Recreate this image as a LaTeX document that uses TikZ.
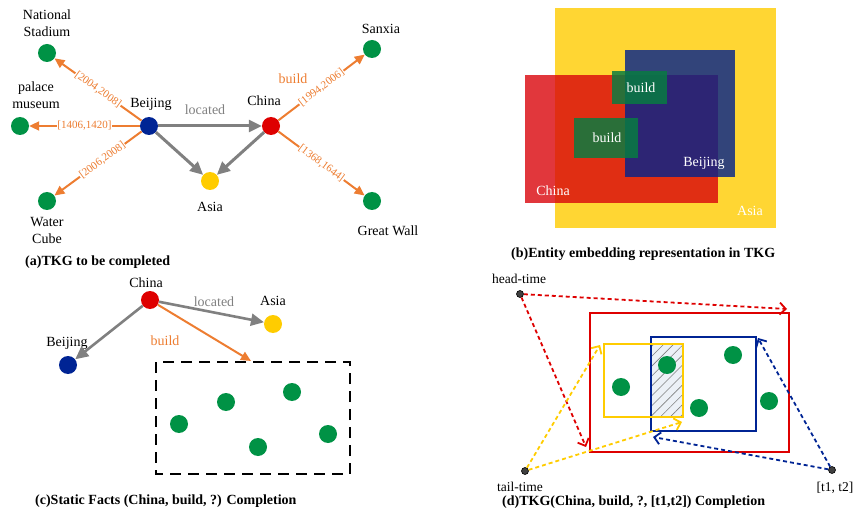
\documentclass[tikz,border=0pt]{standalone}
\usepackage{fontspec}
\setmainfont{Liberation Serif}
\usepackage{tikz}
\usetikzlibrary{arrows.meta}
\usetikzlibrary{patterns.meta}
\usepackage{xcolor}
\definecolor{entgreen}{RGB}{0,146,69}
\definecolor{entblue}{RGB}{0,36,148}
\definecolor{entred}{RGB}{222,0,0}
\definecolor{entyellow}{RGB}{255,204,0}
\definecolor{timeorange}{RGB}{237,125,49}
\definecolor{relgray}{RGB}{128,128,128}
\definecolor{embyellow}{RGB}{255,214,51}
\definecolor{embred}{RGB}{217,5,11}
\definecolor{embblue}{RGB}{6,36,138}
\definecolor{embgreen}{RGB}{8,124,65}
\definecolor{hatchbg}{RGB}{236,241,247}

\begin{document}
\begin{tikzpicture}[x=1pt,y=-1pt,
  ent/.style={circle,minimum size=18pt,inner sep=0pt},
  lab/.style={font=\fontsize{14}{17}\selectfont,align=center,inner sep=0pt},
  figcap/.style={font=\fontsize{14}{16}\selectfont\bfseries,anchor=west,inner sep=0pt},
  rel/.style={draw=relgray,line width=3pt,-{Triangle[length=13pt,width=12pt]}},
  tim/.style={draw=timeorange,line width=2pt,-{Triangle[length=10pt,width=9pt]}},
  tlab/.style={font=\fontsize{11}{12}\selectfont,text=timeorange,fill=white,inner sep=0.6pt,sloped},
  tdot/.style={circle,fill=darkgray,draw=black,line width=0.6pt,minimum size=7pt,inner sep=0pt},
  qline/.style={line width=1.8pt,dash pattern=on 4pt off 3pt,-{Straight Barb[length=6pt,width=12pt]}},
  emb/.style={font=\fontsize{14}{16}\selectfont,text=white}]
 \useasboundingbox (0,0) rectangle (857,513);
 %%%%%%%%%%%%%%%%%%%% (a)
 \node[ent,fill=entblue] (bj) at (149,126) {};
 \node[ent,fill=entred] (cn) at (271,126) {};
 \node[ent,fill=entyellow] (as) at (210,181) {};
 \node[ent,fill=entgreen] (ns) at (47,53) {};
 \node[ent,fill=entgreen] (pm) at (20,126) {};
 \node[ent,fill=entgreen] (wc) at (47,201) {};
 \node[ent,fill=entgreen] (sx) at (372,49) {};
 \node[ent,fill=entgreen] (gw) at (372,201) {};
 \node[lab] at (47,23.5) {National\\Stadium};
 \node[lab] at (36,95.5) {palace\\museum};
 \node[lab] at (47,230.5) {Water\\Cube};
 \node[lab] at (151,104) {Beijing};
 \node[lab] at (264,101) {China};
 \node[lab] at (210,207) {Asia};
 \node[lab] at (381,29) {Sanxia};
 \node[lab] at (388,231) {Great Wall};
 \node[lab,text=relgray] at (205,110) {located};
 \node[lab,text=timeorange] at (293,79) {build};
 \draw[rel] (bj) -- (cn);
 \draw[rel] (bj) -- (as);
 \draw[rel] (cn) -- (as);
 \draw[tim] (bj) -- node[tlab] {[2004,2008]} (ns);
 \draw[tim] (bj) -- node[tlab] {[1406,1420]} (pm);
 \draw[tim] (bj) -- node[tlab,pos=0.45] {[2006,2008]} (wc);
 \draw[tim] (cn) -- node[tlab] {[1994,2006]} (sx);
 \draw[tim] (cn) -- node[tlab] {[1368,1644]} (gw);
 \node[figcap] at (25,262) {(a)TKG to be completed};
 %%%%%%%%%%%%%%%%%%%% (b)
 \fill[embyellow] (555,8) rectangle (776,228);
 \fill[embred,opacity=0.8] (525,75) rectangle (718,203);
 \fill[embblue,opacity=0.82] (625,50) rectangle (735,177);
 \fill[embgreen,opacity=0.84] (612,71) rectangle (667,104);
 \fill[embgreen,opacity=0.84] (574,118) rectangle (638,158);
 \node[emb] at (641,88) {build};
 \node[emb] at (607,138) {build};
 \node[emb] at (704,163) {Beijing};
 \node[emb] at (553,191) {China};
 \node[emb] at (750,211) {Asia};
 \node[figcap] at (511,254) {(b)Entity embedding representation in TKG};
 %%%%%%%%%%%%%%%%%%%% (c)
 \node[ent,fill=entred] (cn2) at (150,300) {};
 \node[ent,fill=entyellow] (as2) at (273,324) {};
 \node[ent,fill=entblue] (bj2) at (68,365) {};
 \node[lab] at (146,283) {China};
 \node[lab] at (273,301) {Asia};
 \node[lab] at (67,343) {Beijing};
 \node[lab,text=relgray] at (214,302) {located};
 \node[lab,text=timeorange] at (165,341) {build};
 \draw[black,line width=2.4pt,dash pattern=on 11pt off 7pt] (156,362) rectangle (350,474);
 \coordinate (cand) at (251,361);
 \draw[rel,line width=2.6pt] (cn2) -- (as2);
 \draw[rel,line width=2.6pt] (cn2) -- (bj2);
 \draw[tim] (cn2) -- (cand);
 \foreach \px/\py in {179/424,226/402,292/392,258/447,328/434}
  \node[ent,fill=entgreen] at (\px,\py) {};
 \node[figcap] at (35,501) {(c)Static Facts (China, build, ?) Completion};
 %%%%%%%%%%%%%%%%%%%% (d)
 \fill[hatchbg] (651,344) rectangle (683,417);
 \fill[pattern={Lines[angle=45,distance=7pt,line width=0.6pt]},pattern color=gray] (651,344) rectangle (683,417);
 \draw[entred,line width=2.2pt] (590,313) rectangle (789,452);
 \draw[entblue,line width=2pt] (651,337) rectangle (756,431);
 \draw[entyellow,line width=2pt] (604,344) rectangle (683,417);
 \foreach \px/\py in {621/387,667/365,733/355,699/408,769/401}
  \node[ent,fill=entgreen] at (\px,\py) {};
 \node[tdot] (ht) at (520,294) {};
 \node[tdot] (tt) at (525,471) {};
 \node[tdot] (iv) at (832,470) {};
 \node[lab,font=\fontsize{13.5}{16}\selectfont] at (519,279) {head-time};
 \node[lab,font=\fontsize{13.5}{16}\selectfont] at (520,487) {tail-time};
 \node[lab,font=\fontsize{13.5}{16}\selectfont] at (835,488) {[t1, t2]};
 \coordinate (redtr) at (787,309);
 \coordinate (redbl) at (586,447);
 \coordinate (yeltl) at (600,345);
 \coordinate (yelbr) at (682,422);
 \coordinate (blutr) at (758,338);
 \coordinate (blubl) at (653,437);
 \draw[qline,entred] (ht) -- (redtr);
 \draw[qline,entred] (ht) -- (redbl);
 \draw[qline,entyellow] (tt) -- (yeltl);
 \draw[qline,entyellow] (tt) -- (yelbr);
 \draw[qline,entblue] (iv) -- (blutr);
 \draw[qline,entblue] (iv) -- (blubl);
 \node[figcap] at (502,502) {(d)TKG(China, build, ?, [t1,t2]) Completion};
\end{tikzpicture}
\end{document}
